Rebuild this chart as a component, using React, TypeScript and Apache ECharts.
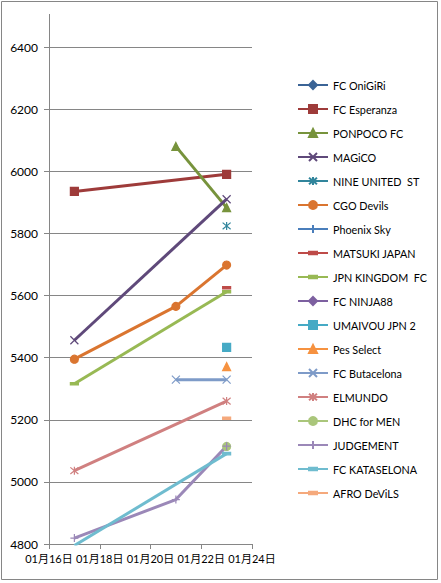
import React, { useEffect, useRef } from "react";
import * as echarts from "echarts";

// x positions (day of January) of the three measurement dates
const days = [17, 21, 23];
const xTickDays = [16, 18, 20, 22, 24];
const yTicks = [4800, 5000, 5200, 5400, 5600, 5800, 6000, 6200, 6400];

const teamNames = [
  "FC OniGiRi",
  "FC Esperanza",
  "PONPOCO FC",
  "MAGiCO",
  "NINE UNITED  ST",
  "CGO Devils",
  "Phoenix Sky",
  "MATSUKI JAPAN",
  "JPN KINGDOM  FC",
  "FC NINJA88",
  "UMAIVOU JPN 2",
  "Pes Select",
  "FC Butacelona",
  "ELMUNDO",
  "DHC for MEN",
  "JUDGEMENT",
  "FC KATASELONA",
  "AFRO DeViLS",
];

// values at days[0], days[1], days[2]
const fcOnigiri = [null, null, null];
const fcEsperanza = [5935, null, 5990];
const ponpocoFc = [null, 6080, 5883];
const magico = [5456, null, 5910];
const nineUnited = [null, null, 5824];
const cgoDevils = [5395, 5565, 5698];
const phoenixSky = [null, null, null];
const matsukiJapan = [null, null, 5625];
const jpnKingdom = [5316, null, 5612];
const fcNinja88 = [null, null, null];
const umaivou = [null, null, 5433];
const pesSelect = [null, null, 5371];
const fcButacelona = [null, 5329, 5329];
const elmundo = [5036, null, 5260];
const dhcForMen = [null, null, 5114];
const judgement = [4819, 4943, 5115];
const fcKataselona = [4795, null, 5091];
const afroDevils = [null, null, 5205];

const teamValues = [
  fcOnigiri, fcEsperanza, ponpocoFc, magico, nineUnited, cgoDevils,
  phoenixSky, matsukiJapan, jpnKingdom, fcNinja88, umaivou, pesSelect,
  fcButacelona, elmundo, dhcForMen, judgement, fcKataselona, afroDevils,
];

const teamColors = [
  "#3B6496", "#9E3B3A", "#77933C", "#5F497A", "#31859C", "#DA7530",
  "#4A7EBB", "#BE4B48", "#98B954", "#7D60A0", "#46AAC5", "#F69240",
  "#7E9BC8", "#D08080", "#AAC67B", "#9B88B8", "#6FBCCF", "#F5A97C",
];

const SYM_X = "path://M0,0L10,10M10,0L0,10";
const SYM_STAR = "path://M0,0L10,10M10,0L0,10M5,-1L5,11";
const SYM_PLUS = "path://M5,0L5,10M0,5L10,5";
const SYM_DASH = "path://M0,0M0,3.5L10,3.5L10,6.5L0,6.5ZM10,10";

const teamSymbols = [
  "diamond", "rect", "triangle", SYM_X, SYM_STAR, "circle",
  SYM_PLUS, SYM_DASH, SYM_DASH, "diamond", "rect", "triangle",
  SYM_X, SYM_STAR, "circle", SYM_PLUS, SYM_DASH, SYM_DASH,
];

const FONT = "Lato, 'Noto Sans CJK JP', sans-serif";
const GRAY = "#868686";

export default function App() {
  const ref = useRef<HTMLDivElement>(null);
  useEffect(() => {
    document.body.style.margin = "0";
    const chart = echarts.init(ref.current!, null, { renderer: "svg" });
    const series = teamNames.map((name, i) => ({
      name,
      type: "line",
      data: days
        .map((d, k) => [d, teamValues[i][k]])
        .filter((p) => p[1] !== null),
      symbol: teamSymbols[i],
      symbolSize: 8,
      showSymbol: true,
      lineStyle: { width: 3, color: teamColors[i] },
      itemStyle: { color: teamColors[i], borderColor: teamColors[i], borderWidth: 1.2 },
      emphasis: { disabled: true },
      clip: true,
    }));
    chart.setOption({
      animation: false,
      grid: { left: 49, right: 189, top: 47, bottom: 39 },
      xAxis: {
        type: "value",
        min: xTickDays[0],
        max: xTickDays[xTickDays.length - 1],
        interval: xTickDays[1] - xTickDays[0],
        axisLine: { show: true, lineStyle: { color: GRAY } },
        axisTick: { show: true, length: 5, lineStyle: { color: GRAY } },
        splitLine: { show: false },
        axisLabel: {
          formatter: (v: number) => `01月${v}日`,
          fontFamily: FONT,
          fontSize: 11,
          color: "#000",
          margin: 9,
          showMinLabel: true,
          showMaxLabel: true,
          hideOverlap: false,
        },
      },
      yAxis: {
        type: "value",
        min: yTicks[0],
        max: yTicks[yTicks.length - 1],
        interval: yTicks[1] - yTicks[0],
        axisLine: { show: true, lineStyle: { color: GRAY } },
        axisTick: { show: true, length: 5, lineStyle: { color: GRAY } },
        splitLine: { show: true, lineStyle: { color: GRAY, width: 1 } },
        axisLabel: {
          formatter: (v: number) => String(v),
          fontFamily: FONT,
          fontSize: 12,
          color: "#000",
          margin: 11,
          showMinLabel: true,
          showMaxLabel: true,
        },
      },
      legend: {
        orient: "vertical",
        left: 297,
        top: 78,
        padding: 0,
        itemWidth: 30,
        itemHeight: 10,
        itemGap: 10,
        selectedMode: false,
        textStyle: { fontFamily: FONT, fontSize: 10.8, color: "#000", lineHeight: 14 },
        data: teamNames,
      },
      graphic: [
        {
          type: "rect",
          shape: { x: 1.5, y: 1.5, width: 436, height: 578 },
          style: { fill: "none", stroke: GRAY, lineWidth: 1 },
          silent: true,
        },
        {
          type: "line",
          shape: { x1: 49.5, y1: 14, x2: 49.5, y2: 47 },
          style: { stroke: GRAY, lineWidth: 1 },
          silent: true,
        },
      ],
      series,
    });
    return () => chart.dispose();
  }, []);
  return <div ref={ref} style={{ width: 441, height: 583, background: "#fff" }} />;
}
